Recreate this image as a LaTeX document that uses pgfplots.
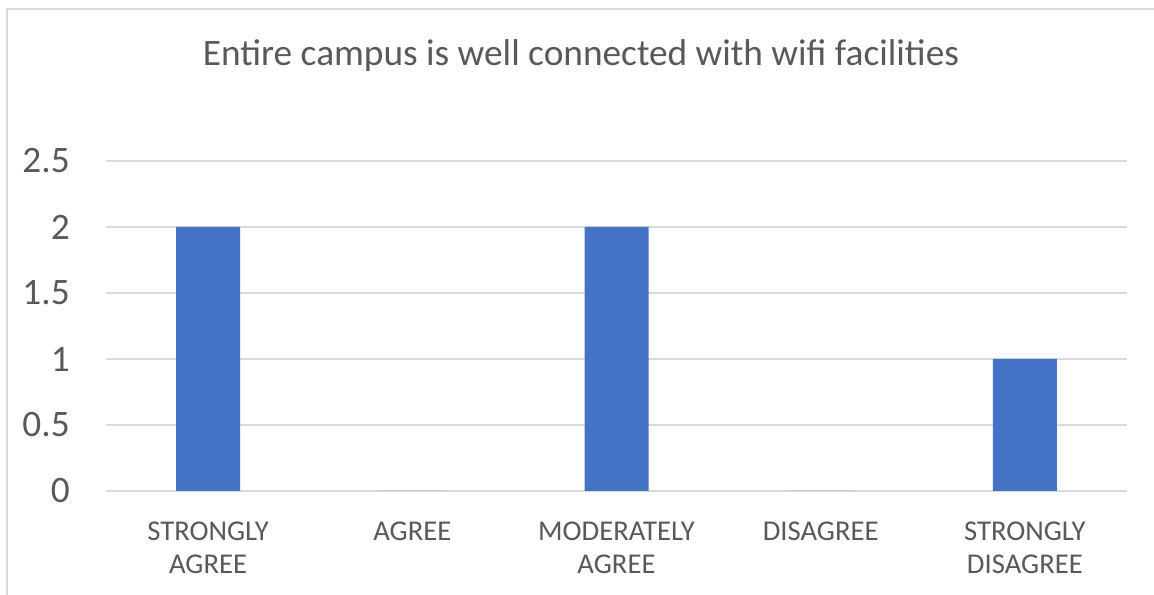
\documentclass[border=0pt]{standalone}
\usepackage{pgfplots}
\pgfplotsset{compat=1.18}
\usepackage{fontspec}
\setmainfont{Carlito}
\definecolor{barblue}{HTML}{4472C4}
\definecolor{txtgray}{HTML}{595959}
\definecolor{gridgray}{HTML}{D9D9D9}
\begin{document}
\begin{tikzpicture}[x=0.75pt,y=0.75pt]
\path[use as bounding box] (0,0) rectangle (1154,595);
\fill[white] (0,0) rectangle (1154,595);
\draw[gridgray, line width=1.5pt] (7,0) -- (7,586) -- (1154,586);
\node[anchor=base, text=txtgray, font=\fontsize{28}{33}\selectfont, inner sep=0pt] at (581,529) {Entire campus is well connected with wifi facilities};
\begin{axis}[
  at={(79.5pt,78pt)}, anchor=south west,
  scale only axis, width=765.75pt, height=247.5pt,
  xmin=-0.5, xmax=4.5, ymin=0, ymax=2.5,
  axis line style={draw=none},
  ytick={0,0.5,1,1.5,2,2.5},
  yticklabels={0,0.5,1,1.5,2,2.5},
  xtick={0,1,2,3,4},
  xticklabels={STRONGLY\\AGREE, AGREE, MODERATELY\\AGREE, DISAGREE, STRONGLY\\DISAGREE},
  major tick length=0pt,
  ymajorgrids, grid style={gridgray, line width=1.2pt},
  yticklabel style={anchor=east, inner sep=0pt, xshift=-27pt, text=txtgray, font=\fontsize{28}{33}\selectfont},
  xticklabel style={anchor=north, inner sep=0pt, yshift=-23pt, text=txtgray, align=center, font=\fontsize{21.5}{24.75}\selectfont},
  clip=false,
]
\addplot[ybar, bar width=48pt, fill=barblue, draw=none] coordinates {(0,2) (1,0) (2,2) (3,0) (4,1)};
\end{axis}
\end{tikzpicture}
\end{document}
